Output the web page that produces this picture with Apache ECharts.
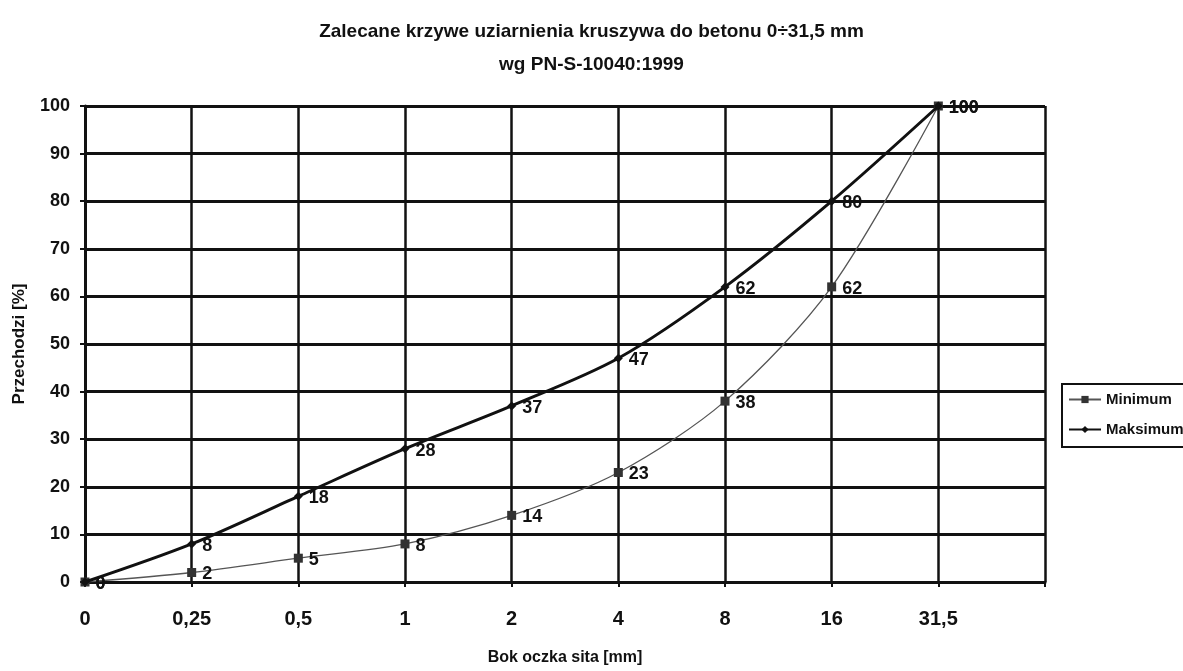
<!DOCTYPE html>
<html>
<head>
<meta charset="utf-8">
<script src="https://cdn.jsdelivr.net/npm/echarts@6/dist/echarts.min.js"></script>
<style>
  html, body { margin: 0; padding: 0; background: #fff; }
  #chart { width: 1183px; height: 671px; }
</style>
</head>
<body>
<div id="chart"></div>
<script>
// krzywe uziarnienia
var sita = ['0', '0,25', '0,5', '1', '2', '4', '8', '16', '31,5', ''];
var minimum = [0, 2, 5, 8, 14, 23, 38, 62, 100];
var maksimum = [0, 8, 18, 28, 37, 47, 62, 80, 100];
var yTicks = [0, 10, 20, 30, 40, 50, 60, 70, 80, 90, 100];

var font = '"Liberation Sans", Arial, sans-serif';

var myChart = echarts.init(document.getElementById('chart'));
myChart.setOption({
  backgroundColor: '#fff',
  animation: false,
  textStyle: { fontFamily: font },
  title: {
    text: 'Zalecane krzywe uziarnienia kruszywa do betonu 0÷31,5 mm\nwg PN-S-10040:1999',
    left: 'center',
    top: 10,
    textStyle: {
      fontFamily: font,
      fontSize: 19,
      fontWeight: 'bold',
      color: '#111',
      lineHeight: 33,
    },
  },
  legend: {
    orient: 'vertical',
    left: 1062,
    top: 384,
    padding: [8, 10, 10, 6],
    itemGap: 15,
    borderColor: '#111',
    borderWidth: 2,
    borderRadius: 0,
    itemWidth: 32,
    itemHeight: 9,
    textStyle: { fontFamily: font, fontSize: 15, fontWeight: 'bold', color: '#111' },
    data: ['Minimum', 'Maksimum'],
  },
  grid: {
    left: 85,
    right: 138,
    top: 106,
    bottom: 88,
    containLabel: false,
  },
  xAxis: {
    type: 'category',
    boundaryGap: false,
    data: sita,
    name: 'Bok oczka sita [mm]',
    nameLocation: 'middle',
    nameGap: 68,
    nameTextStyle: { fontFamily: font, fontSize: 16, fontWeight: 'bold', color: '#111' },
    axisLine: { lineStyle: { color: '#111', width: 3 } },
    axisTick: { show: true, inside: false, length: 5, alignWithLabel: true, interval: 0, lineStyle: { color: '#111', width: 2 } },
    axisLabel: { interval: 0, margin: 27, fontFamily: font, fontSize: 20, fontWeight: 'bold', color: '#111' },
    splitLine: { show: true, interval: 0, lineStyle: { color: '#111', width: 2.5 } },
  },
  yAxis: {
    type: 'value',
    min: 0,
    max: 100,
    interval: 10,
    name: 'Przechodzi [%]',
    nameLocation: 'middle',
    nameGap: 57,
    nameRotate: 90,
    nameTextStyle: { fontFamily: font, fontSize: 17, fontWeight: 'bold', color: '#111' },
    axisLine: { show: true, lineStyle: { color: '#111', width: 3 } },
    axisTick: { show: true, inside: false, length: 5, lineStyle: { color: '#111', width: 2 } },
    axisLabel: {
      margin: 15,
      fontFamily: font,
      fontSize: 18,
      fontWeight: 'bold',
      color: '#111',
      formatter: function (v) {
        return yTicks.indexOf(v) >= 0 ? String(v) : '';
      },
    },
    splitLine: { show: true, lineStyle: { color: '#111', width: 3 } },
  },
  series: [
    {
      name: 'Minimum',
      type: 'line',
      smooth: 0.3,
      symbol: 'rect',
      symbolSize: 9,
      color: '#333',
      lineStyle: { color: '#555', width: 1.3 },
      itemStyle: { color: '#333' },
      label: {
        show: true,
        position: 'right',
        distance: 6,
        offset: [0, 2],
        fontFamily: font,
        fontSize: 18,
        fontWeight: 'bold',
        color: '#111',
      },
      z: 3,
      data: minimum,
    },
    {
      name: 'Maksimum',
      type: 'line',
      smooth: 0.3,
      symbol: 'diamond',
      symbolSize: 9,
      color: '#111',
      lineStyle: { color: '#111', width: 3 },
      itemStyle: { color: '#111' },
      label: {
        show: true,
        position: 'right',
        distance: 6,
        offset: [0, 2],
        fontFamily: font,
        fontSize: 18,
        fontWeight: 'bold',
        color: '#111',
      },
      z: 4,
      data: maksimum,
    },
  ],
});
</script>
</body>
</html>
